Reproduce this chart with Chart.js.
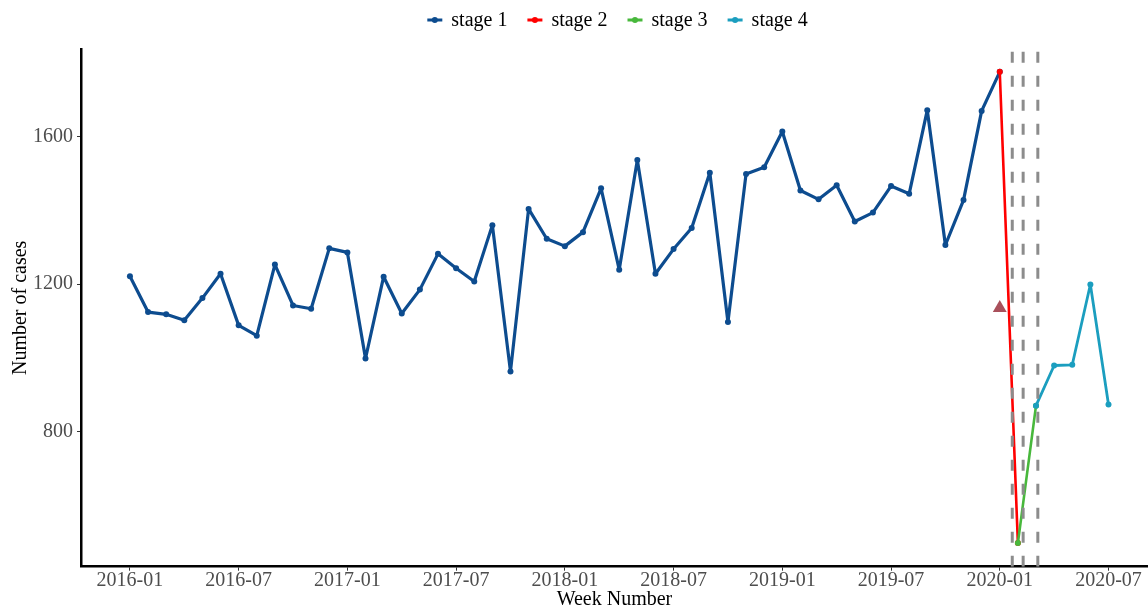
<!DOCTYPE html>
<html>
<head>
<meta charset="utf-8">
<script src="https://cdn.jsdelivr.net/npm/chart.js@4"></script>
<style>
  html, body { margin: 0; padding: 0; background: #fff; }
  canvas { display: block; }
</style>
</head>
<body>
<canvas id="chart" width="1148" height="613"></canvas>
<script>
// month index 0 = 2016-01
var tickLabels = ['2016-01', '2016-07', '2017-01', '2017-07', '2018-01',
                  '2018-07', '2019-01', '2019-07', '2020-01', '2020-07'];
var yTicks = [800, 1200, 1600];

var stage1Start = 0;
var stage1 = [1221, 1124, 1118, 1102, 1162, 1228, 1088, 1060, 1253, 1142, 1133, 1297,
              1286, 998, 1220, 1120, 1185, 1282, 1243, 1207, 1360, 963, 1404, 1323,
              1303, 1341, 1460, 1239, 1537, 1228, 1295, 1352, 1502, 1097, 1499, 1517,
              1614, 1454, 1430, 1468, 1370, 1394, 1466, 1445, 1672, 1306, 1428, 1670,
              1776];
var stage2Start = 48;
var stage2 = [1776, 497];
var stage3Start = 49;
var stage3 = [497, 870];
var stage4Start = 50;
var stage4 = [870, 979, 981, 1199, 873];

// expected value for 2020-01 (triangle) and the dashed cut-off dates
var expectedMonth = 48;
var expectedValue = 1135;
var cutoffs = [48.69, 49.29, 50.1];

var stageNames = ['stage 1', 'stage 2', 'stage 3', 'stage 4'];
var stageColors = ['#0d4c8f', '#ff0000', '#48b83c', '#1b9ebf'];

var yMin = 433, yMax = 1838;
var xMin = -2.7, xMax = 56.18;
var serif = "'Liberation Serif', 'Times New Roman', serif";

function toPoints(start, values) {
  return values.map(function (v, i) { return { x: start + i, y: v }; });
}

function stageSet(i, start, values, width) {
  return {
    label: stageNames[i],
    data: toPoints(start, values),
    borderColor: stageColors[i],
    backgroundColor: stageColors[i],
    borderWidth: width,
    borderJoinStyle: 'round',
    borderCapStyle: 'round',
    pointRadius: 3,
    pointBorderWidth: 0,
    pointBackgroundColor: stageColors[i],
    tension: 0,
    order: 4 - i
  };
}

function cutoffSet(x) {
  return {
    label: 'cutoff',
    data: [{ x: x, y: yMin }, { x: x, y: yMax }],
    borderColor: '#8c8c8c',
    borderWidth: 3,
    borderDash: [11, 13],
    pointRadius: 0,
    order: 0
  };
}

// legend drawn by hand: short line with a dot, then the label
var stageLegend = {
  id: 'stageLegend',
  afterDraw: function (chart) {
    var ctx = chart.ctx;
    var area = chart.chartArea;
    ctx.save();
    ctx.font = '20px ' + serif;
    var widths = stageNames.map(function (n) { return ctx.measureText(n).width; });
    var total = 0;
    widths.forEach(function (w) { total += 15 + 9 + w; });
    total += 20 * (stageNames.length - 1);
    var x = (area.left + area.right) / 2 + 3 - total / 2;
    var y = 20;
    stageNames.forEach(function (name, i) {
      ctx.strokeStyle = stageColors[i];
      ctx.fillStyle = stageColors[i];
      ctx.lineWidth = 3;
      ctx.beginPath();
      ctx.moveTo(x, y);
      ctx.lineTo(x + 15, y);
      ctx.stroke();
      ctx.beginPath();
      ctx.arc(x + 7.5, y, 3, 0, Math.PI * 2);
      ctx.fill();
      ctx.fillStyle = '#000';
      ctx.textBaseline = 'middle';
      ctx.textAlign = 'left';
      ctx.fillText(name, x + 24, y + 1);
      x += 24 + widths[i] + 20;
    });
    ctx.restore();
  }
};

var datasets = [
  stageSet(0, stage1Start, stage1, 3.2),
  stageSet(1, stage2Start, stage2, 2.6),
  stageSet(2, stage3Start, stage3, 2.6),
  stageSet(3, stage4Start, stage4, 2.8),
  {
    label: 'expected',
    data: [{ x: expectedMonth, y: expectedValue }],
    showLine: false,
    pointStyle: 'triangle',
    pointRadius: 8,
    pointBorderWidth: 0,
    pointBackgroundColor: '#a9505b',
    order: 0
  }
].concat(cutoffs.map(cutoffSet));

var chart = new Chart('chart', {
  type: 'line',
  data: { datasets: datasets },
  plugins: [stageLegend],
  options: {
    responsive: false,
    animation: false,
    layout: { autoPadding: false, padding: { top: 49, right: 0, left: 0, bottom: 0 } },
    plugins: { legend: { display: false }, tooltip: { enabled: false } },
    scales: {
      x: {
        type: 'linear',
        min: xMin,
        max: xMax,
        afterBuildTicks: function (scale) {
          scale.ticks = tickLabels.map(function (t, i) { return { value: i * 6 }; });
        },
        afterFit: function (scale) {
          scale.height = 46.3;
          scale.paddingLeft = 0;
          scale.paddingRight = 0;
        },
        ticks: {
          padding: 0,
          color: '#4d4d4d',
          font: { family: serif, size: 20, lineHeight: 1 },
          maxRotation: 0,
          autoSkip: false,
          callback: function (v) { return tickLabels[Math.round(v / 6)]; }
        },
        grid: { drawOnChartArea: false, drawTicks: true, tickLength: 4, color: '#333' },
        border: { display: true, color: '#000', width: 2.5 },
        title: {
          display: true,
          text: 'Week Number',
          color: '#000',
          font: { family: serif, size: 20, lineHeight: 1.2 },
          padding: { top: 0, bottom: 1 }
        }
      },
      y: {
        min: yMin,
        max: yMax,
        afterBuildTicks: function (scale) {
          scale.ticks = yTicks.map(function (v) { return { value: v }; });
        },
        afterFit: function (scale) {
          scale.width = 81;
          scale.paddingTop = 0;
          scale.paddingBottom = 0;
        },
        ticks: {
          padding: 4,
          color: '#4d4d4d',
          font: { family: serif, size: 20 },
          callback: function (v) { return String(v); }
        },
        grid: { drawOnChartArea: false, drawTicks: true, tickLength: 4, color: '#333' },
        border: { display: true, color: '#000', width: 2.5 },
        title: {
          display: true,
          text: 'Number of cases',
          color: '#000',
          font: { family: serif, size: 20, lineHeight: 1.2 },
          padding: { top: 9, bottom: 0 }
        }
      }
    }
  }
});
</script>
</body>
</html>
